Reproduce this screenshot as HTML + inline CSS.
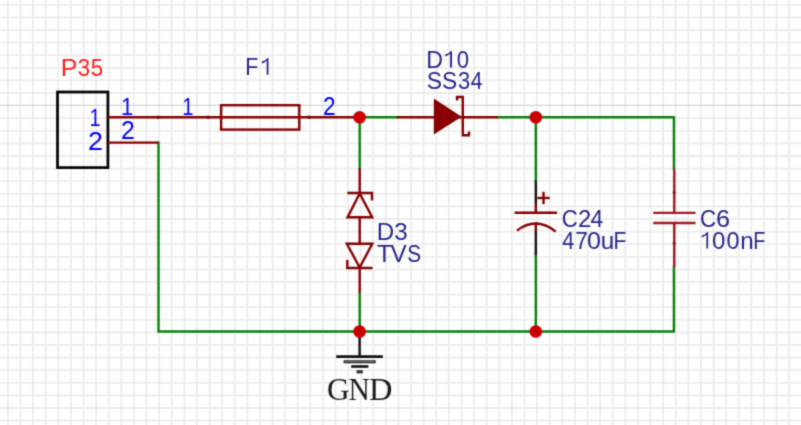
<!DOCTYPE html>
<html><head><meta charset="utf-8"><style>
html,body{margin:0;padding:0;background:#fff;width:801px;height:425px;overflow:hidden}
svg{display:block}
</style></head><body>
<svg width="801" height="425" viewBox="0 0 801 425">
<defs><filter id="b" x="0" y="0" width="801" height="425" filterUnits="userSpaceOnUse" color-interpolation-filters="sRGB"><feConvolveMatrix order="3" kernelMatrix="0.0625 0.25 0.0625 0.25 1 0.25 0.0625 0.25 0.0625" divisor="2.25" edgeMode="duplicate"/></filter></defs>
<g filter="url(#b)">
<rect width="801" height="425" fill="#fff"/>

<g stroke="#ececec" stroke-width="1.8">
<line x1="7.90" y1="0" x2="7.90" y2="425"/>
<line x1="20.50" y1="0" x2="20.50" y2="425"/>
<line x1="33.10" y1="0" x2="33.10" y2="425"/>
<line x1="45.70" y1="0" x2="45.70" y2="425"/>
<line x1="58.30" y1="0" x2="58.30" y2="425"/>
<line x1="70.90" y1="0" x2="70.90" y2="425"/>
<line x1="83.50" y1="0" x2="83.50" y2="425"/>
<line x1="96.10" y1="0" x2="96.10" y2="425"/>
<line x1="108.70" y1="0" x2="108.70" y2="425"/>
<line x1="121.30" y1="0" x2="121.30" y2="425"/>
<line x1="133.90" y1="0" x2="133.90" y2="425"/>
<line x1="146.50" y1="0" x2="146.50" y2="425"/>
<line x1="159.10" y1="0" x2="159.10" y2="425"/>
<line x1="171.70" y1="0" x2="171.70" y2="425"/>
<line x1="184.30" y1="0" x2="184.30" y2="425"/>
<line x1="196.90" y1="0" x2="196.90" y2="425"/>
<line x1="209.50" y1="0" x2="209.50" y2="425"/>
<line x1="222.10" y1="0" x2="222.10" y2="425"/>
<line x1="234.70" y1="0" x2="234.70" y2="425"/>
<line x1="247.30" y1="0" x2="247.30" y2="425"/>
<line x1="259.90" y1="0" x2="259.90" y2="425"/>
<line x1="272.50" y1="0" x2="272.50" y2="425"/>
<line x1="285.10" y1="0" x2="285.10" y2="425"/>
<line x1="297.70" y1="0" x2="297.70" y2="425"/>
<line x1="310.30" y1="0" x2="310.30" y2="425"/>
<line x1="322.90" y1="0" x2="322.90" y2="425"/>
<line x1="335.50" y1="0" x2="335.50" y2="425"/>
<line x1="348.10" y1="0" x2="348.10" y2="425"/>
<line x1="360.70" y1="0" x2="360.70" y2="425"/>
<line x1="373.30" y1="0" x2="373.30" y2="425"/>
<line x1="385.90" y1="0" x2="385.90" y2="425"/>
<line x1="398.50" y1="0" x2="398.50" y2="425"/>
<line x1="411.10" y1="0" x2="411.10" y2="425"/>
<line x1="423.70" y1="0" x2="423.70" y2="425"/>
<line x1="436.30" y1="0" x2="436.30" y2="425"/>
<line x1="448.90" y1="0" x2="448.90" y2="425"/>
<line x1="461.50" y1="0" x2="461.50" y2="425"/>
<line x1="474.10" y1="0" x2="474.10" y2="425"/>
<line x1="486.70" y1="0" x2="486.70" y2="425"/>
<line x1="499.30" y1="0" x2="499.30" y2="425"/>
<line x1="511.90" y1="0" x2="511.90" y2="425"/>
<line x1="524.50" y1="0" x2="524.50" y2="425"/>
<line x1="537.10" y1="0" x2="537.10" y2="425"/>
<line x1="549.70" y1="0" x2="549.70" y2="425"/>
<line x1="562.30" y1="0" x2="562.30" y2="425"/>
<line x1="574.90" y1="0" x2="574.90" y2="425"/>
<line x1="587.50" y1="0" x2="587.50" y2="425"/>
<line x1="600.10" y1="0" x2="600.10" y2="425"/>
<line x1="612.70" y1="0" x2="612.70" y2="425"/>
<line x1="625.30" y1="0" x2="625.30" y2="425"/>
<line x1="637.90" y1="0" x2="637.90" y2="425"/>
<line x1="650.50" y1="0" x2="650.50" y2="425"/>
<line x1="663.10" y1="0" x2="663.10" y2="425"/>
<line x1="675.70" y1="0" x2="675.70" y2="425"/>
<line x1="688.30" y1="0" x2="688.30" y2="425"/>
<line x1="700.90" y1="0" x2="700.90" y2="425"/>
<line x1="713.50" y1="0" x2="713.50" y2="425"/>
<line x1="726.10" y1="0" x2="726.10" y2="425"/>
<line x1="738.70" y1="0" x2="738.70" y2="425"/>
<line x1="751.30" y1="0" x2="751.30" y2="425"/>
<line x1="763.90" y1="0" x2="763.90" y2="425"/>
<line x1="776.50" y1="0" x2="776.50" y2="425"/>
<line x1="789.10" y1="0" x2="789.10" y2="425"/>
<line x1="0" y1="4.80" x2="801" y2="4.80"/>
<line x1="0" y1="17.40" x2="801" y2="17.40"/>
<line x1="0" y1="30.00" x2="801" y2="30.00"/>
<line x1="0" y1="42.60" x2="801" y2="42.60"/>
<line x1="0" y1="55.20" x2="801" y2="55.20"/>
<line x1="0" y1="67.80" x2="801" y2="67.80"/>
<line x1="0" y1="80.40" x2="801" y2="80.40"/>
<line x1="0" y1="93.00" x2="801" y2="93.00"/>
<line x1="0" y1="105.4" x2="801" y2="105.4" stroke="#d4d4d4" stroke-width="1.4"/>
<line x1="0" y1="118.20" x2="801" y2="118.20"/>
<line x1="0" y1="130.80" x2="801" y2="130.80"/>
<line x1="0" y1="143.40" x2="801" y2="143.40"/>
<line x1="0" y1="156.00" x2="801" y2="156.00"/>
<line x1="0" y1="168.60" x2="801" y2="168.60"/>
<line x1="0" y1="181.20" x2="801" y2="181.20"/>
<line x1="0" y1="193.80" x2="801" y2="193.80"/>
<line x1="0" y1="206.40" x2="801" y2="206.40"/>
<line x1="0" y1="219.00" x2="801" y2="219.00"/>
<line x1="0" y1="231.60" x2="801" y2="231.60"/>
<line x1="0" y1="244.20" x2="801" y2="244.20"/>
<line x1="0" y1="256.80" x2="801" y2="256.80"/>
<line x1="0" y1="269.40" x2="801" y2="269.40"/>
<line x1="0" y1="282.00" x2="801" y2="282.00"/>
<line x1="0" y1="294.60" x2="801" y2="294.60"/>
<line x1="0" y1="307.20" x2="801" y2="307.20"/>
<line x1="0" y1="319.80" x2="801" y2="319.80"/>
<line x1="0" y1="332.40" x2="801" y2="332.40"/>
<line x1="0" y1="345.00" x2="801" y2="345.00"/>
<line x1="0" y1="357.60" x2="801" y2="357.60"/>
<line x1="0" y1="370.20" x2="801" y2="370.20"/>
<line x1="0" y1="382.80" x2="801" y2="382.80"/>
<line x1="0" y1="395.40" x2="801" y2="395.40"/>
<line x1="0" y1="408.00" x2="801" y2="408.00"/>
<line x1="0" y1="420.60" x2="801" y2="420.60"/>
</g>
<g stroke="#0a800a" stroke-width="2.4" fill="none" stroke-linecap="square">
<polyline points="158.5,142.6 158.5,331.5 673.9,331.5 673.9,267.3"/>
<polyline points="673.9,168.5 673.9,117.3 498,117.3"/>
<line x1="359.6" y1="117.3" x2="397" y2="117.3"/>
<line x1="359.7" y1="117.3" x2="359.7" y2="168.3"/>
<line x1="359.7" y1="292.7" x2="359.7" y2="331.5"/>
<line x1="535.8" y1="117.3" x2="535.8" y2="180.6"/>
<line x1="535.8" y1="255" x2="535.8" y2="331.5"/>
</g>
<rect x="57.5" y="92" width="50.4" height="75.6" fill="none" stroke="#000" stroke-width="2.7"/>
<g stroke="#880000" stroke-width="2.4" fill="none">
<line x1="108" y1="117.3" x2="359.6" y2="117.3"/>
<line x1="108" y1="142.6" x2="158.5" y2="142.6"/>
<rect x="221.1" y="105.2" width="78.2" height="24.4"/>
<line x1="397" y1="117.3" x2="498" y2="117.3"/>
<polyline points="457,100.5 457,97 462.8,97 462.8,135.2 469,135.2 469,131.5"/>
<line x1="359.7" y1="168.3" x2="359.7" y2="193"/>
<line x1="359.7" y1="217.3" x2="359.7" y2="243.7"/>
<line x1="359.7" y1="268" x2="359.7" y2="292.7"/>
<polyline points="372,200.6 372,193 347.3,193"/>
<polygon points="347.6,217.3 372.2,217.3 359.7,193.4"/>
<polygon points="346.8,243.7 372.3,243.7 359.7,267.5"/>
<polyline points="347.3,259.9 347.3,268 372.6,268"/>
<line x1="535.8" y1="204" x2="535.8" y2="212.8"/>
<line x1="514.6" y1="212.8" x2="557" y2="212.8"/>
<path d="M517,230.6 Q536,216 555.8,231.6"/>
<line x1="535.8" y1="222.5" x2="535.8" y2="231"/>
<line x1="537.4" y1="198" x2="549.7" y2="198"/>
<line x1="543.5" y1="191.8" x2="543.5" y2="204.1"/>
</g>
<polygon points="433.8,98.6 433.8,134.6 461.6,116.8" fill="#880000"/>
<g stroke="#333" stroke-width="2.4">
<line x1="535.8" y1="180.6" x2="535.8" y2="204" stroke="#151515"/>
<line x1="535.8" y1="231" x2="535.8" y2="255" stroke="#151515"/>
</g>
<g stroke="#a01a26" stroke-width="2.4">
<line x1="674.2" y1="168.5" x2="674.2" y2="212.9"/>
<line x1="674.2" y1="223" x2="674.2" y2="267.3"/>
<line x1="653.2" y1="212.9" x2="695.6" y2="212.9"/>
<line x1="653.2" y1="223" x2="695.6" y2="223"/>
</g>
<g stroke="#111" stroke-width="2.4">
<line x1="359.6" y1="331.5" x2="359.6" y2="356.6"/>
<line x1="336.2" y1="356.6" x2="382.8" y2="356.6" stroke-width="2.6"/>
<line x1="343.6" y1="361.7" x2="375.7" y2="361.7" stroke="#1a1a1a" stroke-width="3.0"/>
<line x1="344.5" y1="361.7" x2="374.8" y2="361.7" stroke="#8a8a8a" stroke-width="0.9"/>
<line x1="351.2" y1="366.5" x2="368.4" y2="366.5" stroke-width="2.6"/>
<line x1="356.6" y1="371.8" x2="362.8" y2="371.8" stroke-width="3.0"/>
<line x1="357.2" y1="371.8" x2="362.2" y2="371.8" stroke="#666" stroke-width="0.8"/>
</g>
<g fill="#7a0000">
<circle cx="158.3" cy="117.3" r="1.7"/>
<circle cx="208.1" cy="117.3" r="1.7"/>
<circle cx="309.2" cy="117.3" r="1.7"/>
</g>
<g fill="#8a1020">
<circle cx="674.2" cy="192.5" r="1.6"/>
<circle cx="674.2" cy="243.3" r="1.6"/>
</g>
<g fill="#cc0000">
<circle cx="359.6" cy="117.3" r="6.3"/>
<circle cx="535.8" cy="117.3" r="6.3"/>
<circle cx="359.6" cy="331.5" r="6.3"/>
<circle cx="535.8" cy="331.5" r="6.3"/>
</g>
<text transform="translate(60.85,76.20) scale(1.028,1.0)" font-family="Liberation Sans" font-size="24.3" fill="#ff1a1a">P</text>
<text transform="translate(77.66,76.20) scale(0.911,1.0)" font-family="Liberation Sans" font-size="24.3" fill="#ff1a1a">3</text>
<text transform="translate(90.71,76.20) scale(0.911,1.0)" font-family="Liberation Sans" font-size="24.3" fill="#ff1a1a">5</text>
<text transform="translate(245.34,74.70) scale(0.884,1.0)" font-family="Liberation Sans" font-size="24.3" fill="#25258e">F</text>
<polygon points="266.68,74.70 268.50,74.70 268.50,58.10 267.33,58.10 266.45,59.28 264.69,60.56 261.95,61.60 261.95,63.57 264.10,62.64 265.66,61.60 266.68,60.79" fill="#25258e"/>
<text transform="translate(426.20,67.60) scale(0.952,1.0)" font-family="Liberation Sans" font-size="24.3" fill="#25258e">D</text>
<polygon points="450.11,67.60 452.00,67.60 452.00,51.00 450.78,51.00 449.87,52.18 448.04,53.46 445.20,54.50 445.20,56.47 447.43,55.54 449.06,54.50 450.11,53.69" fill="#25258e"/>
<text transform="translate(456.63,67.60) scale(0.913,1.0)" font-family="Liberation Sans" font-size="24.3" fill="#25258e">0</text>
<text transform="translate(426.76,89.10) scale(0.944,1.0)" font-family="Liberation Sans" font-size="24.3" fill="#25258e">S</text>
<text transform="translate(441.97,89.10) scale(0.936,1.0)" font-family="Liberation Sans" font-size="24.3" fill="#25258e">S</text>
<text transform="translate(458.06,89.10) scale(0.903,1.0)" font-family="Liberation Sans" font-size="24.3" fill="#25258e">3</text>
<text transform="translate(470.82,89.10) scale(0.866,1.0)" font-family="Liberation Sans" font-size="24.3" fill="#25258e">4</text>
<text transform="translate(376.72,239.50) scale(0.994,1.0)" font-family="Liberation Sans" font-size="24.3" fill="#25258e">D</text>
<text transform="translate(394.18,239.50) scale(0.998,1.0)" font-family="Liberation Sans" font-size="24.3" fill="#25258e">3</text>
<text transform="translate(377.06,261.50) scale(0.997,1.0)" font-family="Liberation Sans" font-size="24.3" fill="#25258e">T</text>
<text transform="translate(390.49,261.50) scale(1.000,1.0)" font-family="Liberation Sans" font-size="24.3" fill="#25258e">V</text>
<text transform="translate(407.15,261.50) scale(0.858,1.0)" font-family="Liberation Sans" font-size="24.3" fill="#25258e">S</text>
<text transform="translate(561.77,227.10) scale(0.916,1.0)" font-family="Liberation Sans" font-size="24.3" fill="#25258e">C</text>
<text transform="translate(577.90,227.10) scale(0.985,1.0)" font-family="Liberation Sans" font-size="24.3" fill="#25258e">2</text>
<text transform="translate(590.38,227.10) scale(0.939,1.0)" font-family="Liberation Sans" font-size="24.3" fill="#25258e">4</text>
<text transform="translate(562.20,248.60) scale(0.890,1.0)" font-family="Liberation Sans" font-size="24.3" fill="#25258e">4</text>
<text transform="translate(575.14,248.60) scale(0.932,1.0)" font-family="Liberation Sans" font-size="24.3" fill="#25258e">7</text>
<text transform="translate(587.12,248.60) scale(1.033,1.0)" font-family="Liberation Sans" font-size="24.3" fill="#25258e">0</text>
<text transform="translate(600.63,248.60) scale(0.998,1.0)" font-family="Liberation Sans" font-size="24.3" fill="#25258e">u</text>
<text transform="translate(613.47,248.60) scale(0.867,1.0)" font-family="Liberation Sans" font-size="24.3" fill="#25258e">F</text>
<text transform="translate(700.01,227.10) scale(0.926,1.0)" font-family="Liberation Sans" font-size="24.3" fill="#25258e">C</text>
<text transform="translate(716.01,227.10) scale(1.043,1.0)" font-family="Liberation Sans" font-size="24.3" fill="#25258e">6</text>
<polygon points="706.38,248.60 708.10,248.60 708.10,232.00 706.99,232.00 706.16,233.18 704.49,234.46 701.90,235.50 701.90,237.47 703.94,236.54 705.42,235.50 706.38,234.69" fill="#25258e"/>
<text transform="translate(712.06,248.60) scale(0.990,1.0)" font-family="Liberation Sans" font-size="24.3" fill="#25258e">0</text>
<text transform="translate(726.48,248.60) scale(0.964,1.0)" font-family="Liberation Sans" font-size="24.3" fill="#25258e">0</text>
<text transform="translate(740.19,248.60) scale(0.998,1.0)" font-family="Liberation Sans" font-size="24.3" fill="#25258e">n</text>
<text transform="translate(753.17,248.60) scale(0.820,1.0)" font-family="Liberation Sans" font-size="24.3" fill="#25258e">F</text>
<text transform="translate(326.92,399.90) scale(1.008,1.0)" font-family="Liberation Serif" font-size="31" fill="#1a1a1a">G</text>
<text transform="translate(348.55,399.90) scale(0.953,1.0)" font-family="Liberation Serif" font-size="31" fill="#1a1a1a">N</text>
<text transform="translate(369.07,399.90) scale(1.047,1.0)" font-family="Liberation Serif" font-size="31" fill="#1a1a1a">D</text>
<text transform="translate(89.48,125.50) scale(0.831,1.0)" font-family="Liberation Sans" font-size="24" fill="#0000ff">1</text>
<text transform="translate(87.95,149.80) scale(1.120,1.07)" font-family="Liberation Sans" font-size="24" fill="#0000ff">2</text>
<text transform="translate(120.92,115.10) scale(0.918,1.0)" font-family="Liberation Sans" font-size="24" fill="#0000ff">1</text>
<text transform="translate(120.95,139.10) scale(1.034,1.07)" font-family="Liberation Sans" font-size="24" fill="#0000ff">2</text>
<text transform="translate(182.25,115.10) scale(0.850,1.0)" font-family="Liberation Sans" font-size="24" fill="#0000ff">1</text>
<text transform="translate(323.06,114.50) scale(0.942,1.07)" font-family="Liberation Sans" font-size="24" fill="#0000ff">2</text>

</g>
</svg>
</body></html>
